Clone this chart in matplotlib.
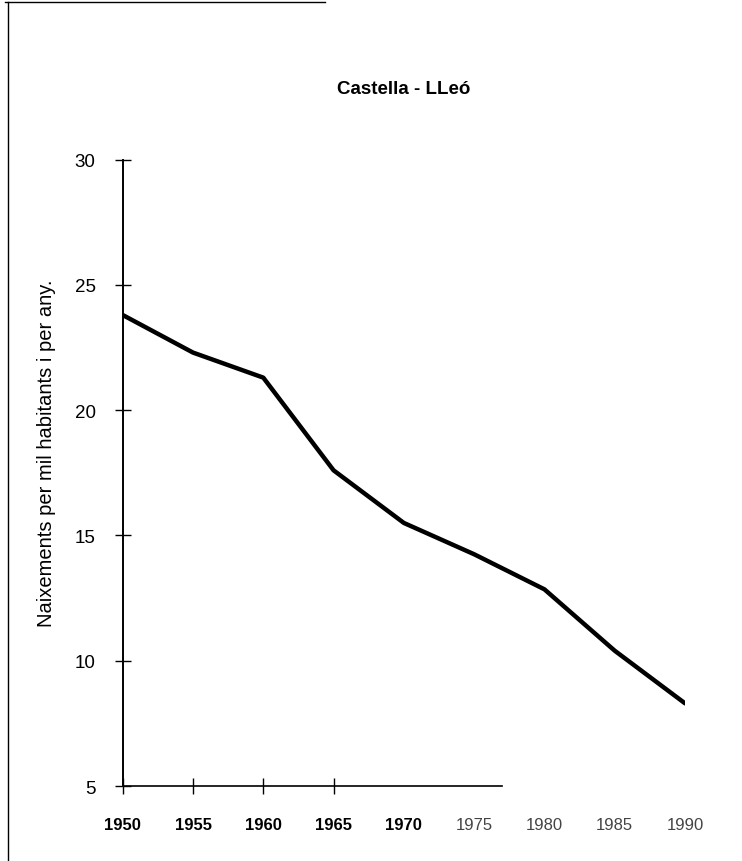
import matplotlib
matplotlib.use("Agg")
import matplotlib.pyplot as plt
from matplotlib.lines import Line2D

plt.rcParams['font.family'] = ['Liberation Sans', 'DejaVu Sans']

years = [1950, 1955, 1960, 1965, 1970, 1975, 1980, 1985, 1990]
births = [23.8, 22.3, 21.3, 17.6, 15.5, 14.25, 12.85, 10.4, 8.3]
y_ticks = [5, 10, 15, 20, 25, 30]
title = "Castella - LLeó"
ylabel = "Naixements per mil habitants i per any."

fig = plt.figure(figsize=(7.42, 8.62), dpi=100)
ax = fig.add_axes([0.1654, 0.087, 0.7578, 0.7266])

ax.plot(years, births, color='black', linewidth=3.2,
        solid_joinstyle='round', solid_capstyle='round')

ax.set_xlim(1950, 1990)
ax.set_ylim(5, 30)
ax.set_xticks(years)
ax.set_yticks(y_ticks)
ax.set_xticklabels([str(y) for y in years], fontsize=12, fontweight='bold')
ax.set_yticklabels([str(v) for v in y_ticks], fontsize=13.5)

for s in ['top', 'right']:
    ax.spines[s].set_visible(False)
ax.spines['left'].set_linewidth(1.4)
ax.spines['bottom'].set_linewidth(1.2)
ax.spines['bottom'].set_bounds(1950, 1977)

ax.tick_params(axis='both', direction='inout', length=11, width=1.0, color='black')
ax.tick_params(axis='y', pad=14)
ax.tick_params(axis='x', pad=17)

# faded ticks/labels on the right part of the scanned axis
for i, t in enumerate(ax.xaxis.get_major_ticks()):
    if years[i] >= 1970:
        t.tick1line.set_visible(False)
    if years[i] >= 1975:
        t.label1.set_color('#444444')
        t.label1.set_fontweight('normal')

fig.text(0.544, 1 - 89 / 862, title, ha='center', va='center',
         fontsize=13.5, fontweight='bold')
fig.text(47 / 742, 1 - 453 / 862, ylabel, ha='center', va='center',
         rotation=90, fontsize=14.5)

# page frame from the scan
fig.add_artist(Line2D([8 / 742, 8 / 742], [0, 1 - 3 / 862], color='black',
                      linewidth=1.0, transform=fig.transFigure))
fig.add_artist(Line2D([5 / 742, 325 / 742], [1 - 3 / 862, 1 - 3 / 862],
                      color='black', linewidth=1.0, transform=fig.transFigure))

fig.savefig('out.png', dpi=100)
